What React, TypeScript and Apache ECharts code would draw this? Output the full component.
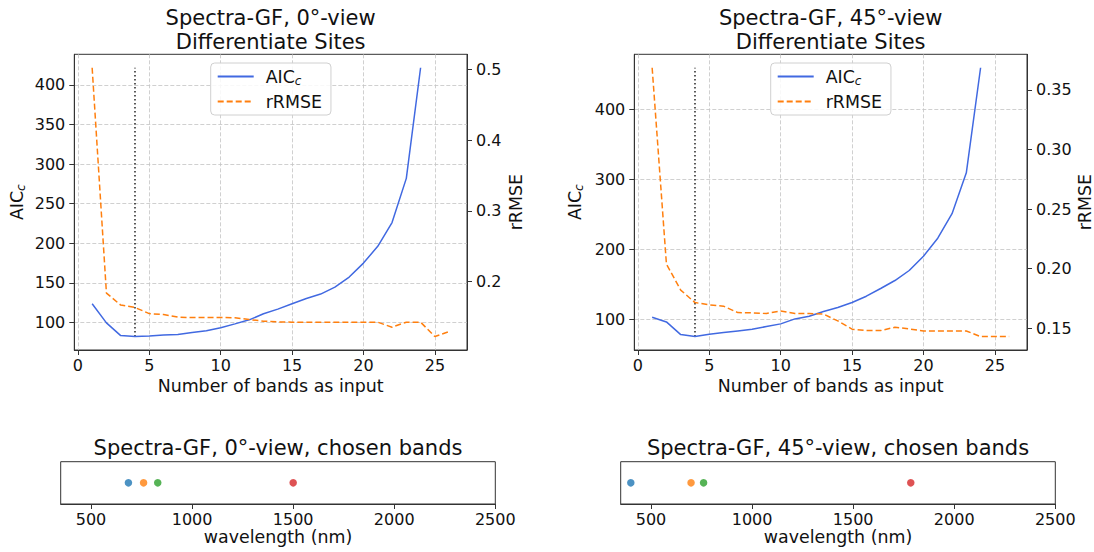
import React, { useEffect, useRef } from "react";
import * as echarts from "echarts";

// ---------- data ----------
const bandCounts = [1, 2, 3, 4, 5, 6, 7, 8, 9, 10, 11, 12, 13, 14, 15, 16, 17, 18, 19, 20, 21, 22, 23, 24, 25, 26];

const aic0 = [123.7, 99.6, 83.5, 82.3, 83.0, 84.4, 84.8, 87.3, 89.5, 93.3, 98.3, 103.4, 111.0, 116.9, 123.7, 130.4, 135.9, 144.7, 157.4, 175.0, 196.2, 226.2, 281.9, 421.5];
const rrmse0 = [0.502, 0.184, 0.167, 0.1636, 0.155, 0.1537, 0.150, 0.1494, 0.1496, 0.1496, 0.149, 0.1466, 0.1443, 0.1433, 0.1429, 0.1429, 0.1429, 0.1429, 0.1429, 0.1429, 0.1429, 0.1358, 0.1429, 0.1429, 0.1226, 0.1296];

const aic45 = [102.9, 96.2, 78.1, 75.3, 78.6, 81.0, 83.4, 85.7, 89.6, 93.4, 100.5, 104.3, 111.0, 116.7, 123.9, 132.9, 143.9, 155.3, 169.6, 190.0, 215.7, 250.6, 309.0, 459.0];
const rrmse45 = [0.3685, 0.2038, 0.182, 0.1715, 0.1696, 0.1685, 0.1631, 0.1629, 0.1623, 0.1645, 0.1623, 0.1623, 0.1618, 0.1561, 0.1492, 0.148, 0.148, 0.1508, 0.1494, 0.1477, 0.1477, 0.1477, 0.1477, 0.143, 0.143, 0.143];

const chosen0 = [685, 760, 830, 1500];
const chosen45 = [400, 698, 760, 1785];
const chosenColors = ["#1f77b4", "#ff7f0e", "#2ca02c", "#d62728"];

const xTicks = [0, 5, 10, 15, 20, 25];
const aicTicks0 = [100, 150, 200, 250, 300, 350, 400];
const rmseTicks0 = [0.2, 0.3, 0.4, 0.5];
const aicTicks45 = [100, 200, 300, 400];
const rmseTicks45 = [0.15, 0.2, 0.25, 0.3, 0.35];
const waveTicks = [500, 1000, 1500, 2000, 2500];
const waveRange = [350, 2500];

const titles0 = ["Spectra-GF, 0°-view\nDifferentiate Sites", "Spectra-GF, 0°-view, chosen bands"];
const titles45 = ["Spectra-GF, 45°-view\nDifferentiate Sites", "Spectra-GF, 45°-view, chosen bands"];

// ---------- style ----------
const FONT = "'DejaVu Sans', sans-serif";
const TXT = "#111";
const AX = "#333";
const BLUE = "#4169e1";
const ORANGE = "#ff7f0e";
const TICK_FS = 16;
const LABEL_FS = 17.4;
const TITLE_FS = 21;

function padded(vals: number[]) {
  const mn = Math.min(...vals);
  const mx = Math.max(...vals);
  const p = (mx - mn) * 0.05;
  return [mn - p, mx + p];
}

const subStyle = { fontSize: 12, fontStyle: "italic", fontFamily: FONT, color: TXT, padding: [9, 0, 0, 0] };

function buildOption() {
  const grids: any[] = [];
  const xAxes: any[] = [];
  const yAxes: any[] = [];
  const series: any[] = [];
  const titles: any[] = [];
  const legends: any[] = [];

  const panels = [
    { left: 74.3, aic: aic0, rmse: rrmse0, aicT: aicTicks0, rmseT: rmseTicks0, dig: 1, rGap: 40, lGap: 47, t: titles0, chosen: chosen0 },
    { left: 634.3, aic: aic45, rmse: rrmse45, aicT: aicTicks45, rmseT: rmseTicks45, dig: 2, rGap: 49, lGap: 49, t: titles45, chosen: chosen45 },
  ];

  const W = 392.7;
  const H = 295.7;
  const xr = padded(bandCounts);
  const tickLabel = { fontSize: TICK_FS, color: TXT, fontFamily: FONT };
  const nameStyle = { fontSize: LABEL_FS, color: TXT, fontFamily: FONT };
  const gridLine = { show: true, lineStyle: { color: "#c4c4c4", type: [4, 2], width: 0.8 } };
  const axLine = { show: true, onZero: false, lineStyle: { color: AX, width: 1 } };

  panels.forEach((p) => {
    const gi = grids.length;
    grids.push({ left: p.left, top: 54.3, width: W, height: H, show: true, borderColor: AX, borderWidth: 1, backgroundColor: "transparent", outerBoundsMode: "none" });
    const xi = xAxes.length;
    xAxes.push({
      type: "value", gridIndex: gi, min: xr[0], max: xr[1],
      axisLine: axLine,
      axisTick: { show: true, length: 5, lineStyle: { color: AX }, customValues: xTicks },
      axisLabel: { ...tickLabel, customValues: xTicks, margin: 7, formatter: (v: number) => String(v) },
      splitLine: gridLine,
      name: "Number of bands as input", nameLocation: "middle", nameGap: 25,
      nameTextStyle: nameStyle,
    });
    const ar = padded(p.aic);
    const yiA = yAxes.length;
    yAxes.push({
      type: "value", gridIndex: gi, position: "left", min: ar[0], max: ar[1],
      axisLine: axLine,
      axisTick: { show: true, length: 5, lineStyle: { color: AX }, customValues: p.aicT },
      axisLabel: { ...tickLabel, customValues: p.aicT, margin: 9, formatter: (v: number) => String(v) },
      splitLine: gridLine,
      name: "AIC{sub|c}", nameLocation: "middle", nameGap: p.lGap, nameRotate: 90,
      nameTextStyle: { ...nameStyle, rich: { sub: subStyle } },
    });
    const rr = padded(p.rmse);
    const yiR = yAxes.length;
    yAxes.push({
      type: "value", gridIndex: gi, position: "right", min: rr[0], max: rr[1],
      axisLine: axLine,
      axisTick: { show: true, length: 5, lineStyle: { color: AX }, customValues: p.rmseT },
      axisLabel: { ...tickLabel, customValues: p.rmseT, margin: 9, formatter: (v: number) => v.toFixed(p.dig) },
      splitLine: { show: false },
      name: "rRMSE", nameLocation: "middle", nameGap: p.rGap, nameRotate: 90,
      nameTextStyle: nameStyle,
    });

    series.push({
      name: "AICc", type: "line", xAxisIndex: xi, yAxisIndex: yiA, symbol: "none",
      data: p.aic.map((v, k) => [bandCounts[k], v]),
      lineStyle: { color: BLUE, width: 1.5 }, itemStyle: { color: BLUE }, z: 3,
    });
    series.push({
      name: "rRMSE", type: "line", xAxisIndex: xi, yAxisIndex: yiR, symbol: "none",
      data: p.rmse.map((v, k) => [bandCounts[k], v]),
      lineStyle: { color: ORANGE, width: 1.5, type: [6, 3] }, itemStyle: { color: ORANGE }, z: 3,
    });
    const mn = Math.min(...p.aic);
    const mx = Math.max(...p.aic);
    const best = bandCounts[p.aic.indexOf(mn)];
    series.push({
      name: "best", type: "line", xAxisIndex: xi, yAxisIndex: yiA, symbol: "none",
      data: [[best, mn], [best, mx]],
      lineStyle: { color: "#000", width: 1.3, type: [1.5, 2.5] }, z: 2,
    });

    const cx = p.left + W / 2;
    titles.push({
      text: p.t[0], left: cx, top: 5.5, textAlign: "center", padding: 0,
      textStyle: { fontSize: TITLE_FS, fontWeight: "normal", color: TXT, fontFamily: FONT, lineHeight: 24 },
    });
    legends.push({
      data: ["AICc", "rRMSE"], orient: "vertical", left: p.left + 136.4, top: 63,
      itemWidth: 36, itemHeight: 14, itemGap: 6, padding: [5, 9, 5, 6],
      backgroundColor: "rgba(255,255,255,0.85)", borderColor: "#d0d0d0", borderWidth: 1, borderRadius: 4,
      itemStyle: { opacity: 0 },
      formatter: (n: string) => (n === "AICc" ? "AIC{sub|c}" : n),
      textStyle: { fontSize: LABEL_FS, color: TXT, fontFamily: FONT, padding: [0, 0, 0, 7], rich: { sub: subStyle } },
      selectedMode: false,
    });

    // strip
    const sLeft = p.left - 13.6;
    const sW = 434.6;
    const sgi = grids.length;
    grids.push({ left: sLeft, top: 461.7, width: sW, height: 42.3, show: true, borderColor: AX, borderWidth: 1, backgroundColor: "transparent", outerBoundsMode: "none" });
    const sxi = xAxes.length;
    xAxes.push({
      type: "value", gridIndex: sgi, min: waveRange[0], max: waveRange[1],
      axisLine: axLine,
      axisTick: { show: true, length: 5, lineStyle: { color: AX }, customValues: waveTicks },
      axisLabel: { ...tickLabel, customValues: waveTicks, margin: 7, formatter: (v: number) => String(v) },
      splitLine: { show: false },
      name: "wavelength (nm)", nameLocation: "middle", nameGap: 24,
      nameTextStyle: nameStyle,
    });
    const syi = yAxes.length;
    yAxes.push({
      type: "value", gridIndex: sgi, min: -1, max: 1,
      axisLine: { show: false }, axisTick: { show: false }, axisLabel: { show: false }, splitLine: { show: false },
    });
    series.push({
      name: "chosen", type: "scatter", xAxisIndex: sxi, yAxisIndex: syi, symbolSize: 7.5,
      data: p.chosen.map((w, k) => ({ value: [w, 0], itemStyle: { color: chosenColors[k] } })),
    });
    titles.push({
      text: p.t[1], left: sLeft + sW / 2, top: 436, textAlign: "center", padding: 0,
      textStyle: { fontSize: TITLE_FS, fontWeight: "normal", color: TXT, fontFamily: FONT, lineHeight: 24 },
    });
  });

  return {
    animation: false,
    backgroundColor: "#fff",
    textStyle: { fontFamily: FONT },
    title: titles,
    legend: legends,
    grid: grids,
    xAxis: xAxes,
    yAxis: yAxes,
    series,
  };
}

export default function App() {
  const ref = useRef<HTMLDivElement>(null);
  useEffect(() => {
    document.body.style.margin = "0";
    const chart = echarts.init(ref.current!, undefined, { renderer: "svg" });
    chart.setOption(buildOption() as any);
    return () => chart.dispose();
  }, []);
  return <div ref={ref} style={{ width: 1094, height: 552, position: "absolute", left: 0, top: 0 }} />;
}
